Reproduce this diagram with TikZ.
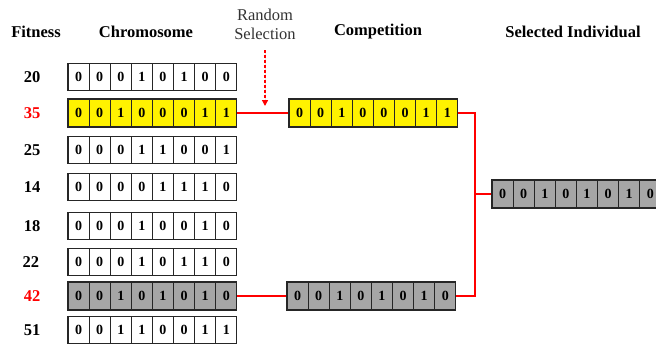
\documentclass[tikz,border=0pt]{standalone}
\usepackage{fontspec}
\setmainfont{Liberation Serif}
\usetikzlibrary{arrows.meta}
\definecolor{cellgray}{HTML}{A6A6A6}
\definecolor{hired}{HTML}{FF0000}
\newcommand{\chromrow}[5]{%
  \foreach \b [count=\i] in {#5} {
    \node[cell,#4] (#1-\i) at ({#2+(\i-0.5)*21.1},#3) {\b};
  }%
}
\begin{document}
\begin{tikzpicture}[x=1pt,y=-1pt,
  cell/.style={draw=black!85,line width=1.1pt,minimum width=21.1pt,minimum height=27pt,
    inner sep=0pt,font=\fontsize{14}{14}\selectfont\bfseries},
  yel/.style={fill=yellow,minimum height=28pt},
  gry/.style={fill=cellgray,minimum height=28pt},
  wht/.style={fill=white},
  head/.style={font=\fontsize{16.5}{18}\selectfont\bfseries},
  fit/.style={font=\fontsize{16.5}{18}\selectfont\bfseries},
  redline/.style={draw=hired,line width=2pt},
]
\useasboundingbox (0,0) rectangle (656,349);
\clip (0,0) rectangle (656,349);
% headers
\node[head] (hfit) at (36,32) {Fitness};
\node[head] (hchr) at (146,32) {Chromosome};
\node[head] (hcomp) at (378,32) {Competition};
\node[head] (hsel) at (573,32) {Selected Individual};
\node[align=center,font=\fontsize{16.5}{19}\selectfont,text=black!80] (hrand) at (265,24) {Random\\Selection};
% fitness labels
\node[fit] (f1) at (32,77) {20};
\node[fit,text=hired] (f2) at (32,113) {35};
\node[fit] (f3) at (32,150) {25};
\node[fit] (f4) at (32,187) {14};
\node[fit] (f5) at (32,226) {18};
\node[fit] (f6) at (31,262) {22};
\node[fit,text=hired] (f7) at (32,296) {42};
\node[fit] (f8) at (32,330) {51};
% chromosomes
\chromrow{r1}{68}{77}{wht}{0,0,0,1,0,1,0,0}
\chromrow{r2}{68}{113}{yel}{0,0,1,0,0,0,1,1}
\chromrow{r3}{68}{150}{wht}{0,0,0,1,1,0,0,1}
\chromrow{r4}{68}{187}{wht}{0,0,0,0,1,1,1,0}
\chromrow{r5}{68}{226}{wht}{0,0,0,1,0,0,1,0}
\chromrow{r6}{68}{262}{wht}{0,0,0,1,0,1,1,0}
\chromrow{r7}{68}{296}{gry}{0,0,1,0,1,0,1,0}
\chromrow{r8}{68}{330}{wht}{0,0,1,1,0,0,1,1}
% competition
\chromrow{c1}{289}{113}{yel}{0,0,1,0,0,0,1,1}
\chromrow{c2}{287}{296}{gry}{0,0,1,0,1,0,1,0}
% selected
\chromrow{s}{492}{194}{gry}{0,0,1,0,1,0,1,0}
% connectors
\draw[redline] (r2-8.east) -- (c1-1.west);
\draw[redline] (r7-8.east) -- (c2-1.west);
\coordinate (j) at (475,194);
\draw[redline] (c1-8.east) -| (j) |- (c2-8.east);
\draw[redline] (j) -- (s-1.west);
% random selection arrow
\coordinate (a1) at (265,50);
\coordinate (a2) at (265,106);
\draw[draw=hired,fill=hired,line width=1.3pt,dash pattern=on 3pt off 2pt,-{Triangle[length=6pt,width=6pt]}] (a1) -- (a2);
\end{tikzpicture}
\end{document}
